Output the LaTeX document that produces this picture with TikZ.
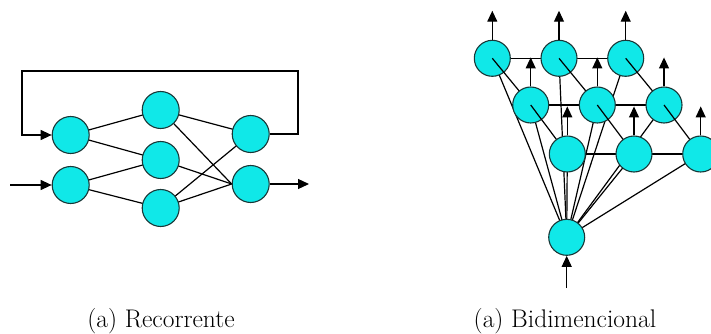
\documentclass[tikz,border=0pt]{standalone}
\usetikzlibrary{arrows.meta}
\pgfdeclarelayer{back}
\pgfdeclarelayer{nA}
\pgfdeclarelayer{lA}
\pgfdeclarelayer{nB}
\pgfdeclarelayer{lB}
\pgfsetlayers{back,nA,lA,nB,lB,main}
\definecolor{nodefill}{RGB}{16,232,232}
\definecolor{nodeline}{RGB}{25,55,55}
\begin{document}
\begin{tikzpicture}[x=1pt,y=-1pt,
  neuron/.style={circle,draw=nodeline,fill=nodefill,line width=1.1pt,minimum size=36pt,inner sep=0pt},
  link/.style={line width=1.2pt,black},
  arr/.style={line width=1.2pt,black,-{Triangle[length=11pt,width=10pt]}},
  captxt/.style={anchor=base,font=\rmfamily\fontsize{25.5}{30}\selectfont,inner sep=0pt}]
\useasboundingbox (0,0) rectangle (711,334);
% ---------- (a) Recorrente ----------
\node[neuron,minimum size=37pt] (I1) at (70.7,135) {};
\node[neuron,minimum size=37pt] (I2) at (70.7,185) {};
\node[neuron,minimum size=37pt] (H1) at (160.7,110) {};
\node[neuron,minimum size=37pt] (H2) at (160.7,160) {};
\node[neuron,minimum size=37pt] (H3) at (160.7,208) {};
\node[neuron,minimum size=37pt] (O1) at (250.7,134) {};
\node[neuron,minimum size=37pt] (O2) at (250.7,184) {};
\coordinate (fbR) at (298,71);
\coordinate (fbL) at (22,71);
\coordinate (inL) at (10,185);
\coordinate (outR) at (309,184);
\begin{pgfonlayer}{back}
  \draw[link] (I1.center) -- (H1.center);
  \draw[link] (I1.center) -- (H2.center);
  \draw[link] (I2.center) -- (H2.center);
  \draw[link] (I2.center) -- (H3.center);
  \draw[link] (H1.center) -- (O1.center);
  \draw[link] (H1.center) -- (O2.west);
  \draw[link] (H2.center) -- (O2.west);
  \draw[link] (H3.center) -- (O1.center);
  \draw[link] (H3.center) -- (O2.west);
\end{pgfonlayer}
\draw[arr] (O1.east) -| (fbR) -- (fbL) |- (I1.west);
\draw[arr] (inL) -- (I2.west);
\draw[arr] (O2.east) -- (outR);
\node[captxt] (capA) at (161,327) {(a) Recorrente};
% ---------- (a) Bidimencional ----------
\begin{pgfonlayer}{nA}
  \node[neuron] (r11) at (492.3,58.3) {};
  \node[neuron] (r12) at (559,58.3) {};
  \node[neuron] (r13) at (625.7,58.3) {};
\end{pgfonlayer}
\begin{pgfonlayer}{nB}
  \node[neuron] (r21) at (530.7,105) {};
  \node[neuron] (r22) at (597.3,105) {};
  \node[neuron] (r23) at (664,105) {};
\end{pgfonlayer}
\node[neuron] (r31) at (567.3,154) {};
\node[neuron] (r32) at (634,154) {};
\node[neuron] (r33) at (700.7,154) {};
\node[neuron] (bot) at (566.7,237.3) {};
\begin{pgfonlayer}{back}
  \foreach \n in {r11,r12,r13,r21,r22,r23,r31,r32,r33}
    \draw[link] (bot.center) -- (\n.center);
  \draw[link] (r11.center) -- (r12.center) -- (r13.center);
  \draw[link] (r21.center) -- (r22.center) -- (r23.center);
  \draw[link] (r31.center) -- (r32.center) -- (r33.center);
\end{pgfonlayer}
\begin{pgfonlayer}{lA}
  \draw[link] (r11.center) -- (r21.center);
  \draw[link] (r12.center) -- (r22.center);
  \draw[link] (r13.center) -- (r23.center);
\end{pgfonlayer}
\begin{pgfonlayer}{lB}
  \draw[link] (r21.center) -- (r31.center);
  \draw[link] (r22.center) -- (r32.center);
  \draw[link] (r23.center) -- (r33.center);
\end{pgfonlayer}
\foreach \n/\tip in {r11/t11,r12/t12,r13/t13,r21/t21,r22/t22,r23/t23,r31/t31,r32/t32,r33/t33}{
  \coordinate (\tip) at ([yshift=29pt]\n.north);
  \draw[arr] (\n.north) -- (\tip);
}
\coordinate (inB) at (566.7,288);
\draw[arr] (inB) -- (bot.south);
\node[captxt] (capB) at (565,327) {(a) Bidimencional};
\end{tikzpicture}
\end{document}
